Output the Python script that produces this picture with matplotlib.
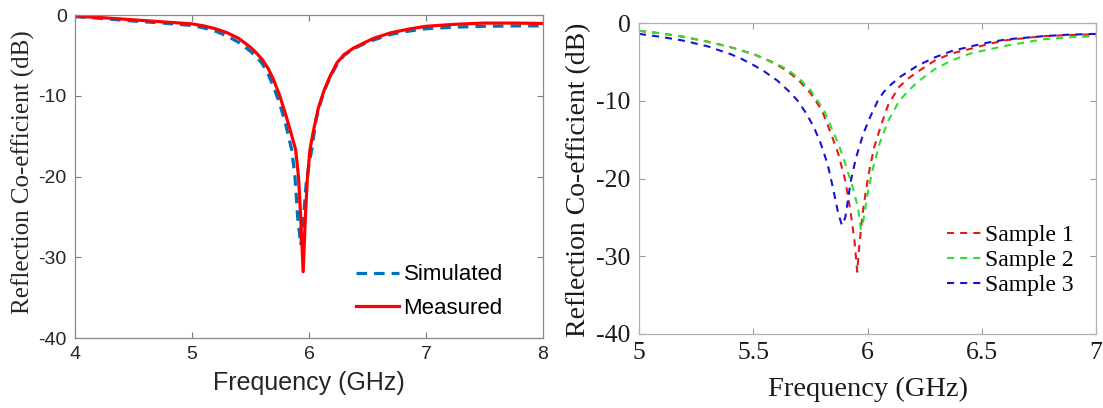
import matplotlib.pyplot as plt

# left panel: simulated vs measured
freq_sim = [4.0, 4.25, 4.5, 4.75, 5.0, 5.1, 5.2, 5.3, 5.4, 5.5, 5.55, 5.6, 5.65, 5.7, 5.75, 5.8, 5.852, 5.88,
            5.903, 5.93, 5.954, 5.975, 6.0, 6.023, 6.06, 6.1, 6.13, 6.18, 6.24, 6.3, 6.38, 6.45, 6.55, 6.7,
            6.85, 7.0, 7.25, 7.5, 7.75, 8.0]
s11_sim = [-0.2, -0.45, -0.75, -1.0, -1.3, -1.6, -2.0, -2.6, -3.4, -4.5, -5.2, -6.0, -7.3, -9.0, -11.0, -13.5,
           -16.7, -20.0, -25.0, -28.5, -25.0, -21.0, -18.5, -16.7, -13.0, -10.8, -9.4, -7.7, -6.1, -5.0,
           -4.2, -3.7, -3.1, -2.4, -2.0, -1.7, -1.5, -1.4, -1.35, -1.35]

freq_meas = [4.0, 4.25, 4.5, 4.75, 5.0, 5.1, 5.2, 5.3, 5.4, 5.5, 5.55, 5.6, 5.65, 5.7, 5.75, 5.8, 5.85, 5.886,
             5.91, 5.929, 5.95, 5.969, 5.985, 6.008, 6.04, 6.08, 6.13, 6.18, 6.24, 6.3, 6.38, 6.45, 6.55,
             6.7, 6.85, 7.0, 7.25, 7.5, 7.75, 8.0]
s11_meas = [-0.15, -0.35, -0.6, -0.85, -1.1, -1.35, -1.7, -2.2, -2.9, -4.0, -4.7, -5.5, -6.6, -8.1, -10.0,
            -12.3, -14.8, -16.7, -20.0, -25.0, -31.8, -25.0, -20.5, -16.7, -14.2, -11.5, -9.3, -7.6, -5.9,
            -4.9, -4.1, -3.6, -2.9, -2.2, -1.75, -1.4, -1.15, -1.0, -1.0, -1.05]

# right panel: three samples
freq_s1 = [5.0, 5.1, 5.2, 5.3, 5.4, 5.5, 5.55, 5.6, 5.65, 5.7, 5.75, 5.8, 5.84, 5.872, 5.903, 5.927, 5.943,
           5.955, 5.966, 5.982, 6.005, 6.029, 6.061, 6.092, 6.139, 6.18, 6.218, 6.296, 6.37, 6.453, 6.53,
           6.61, 6.767, 6.88, 7.0]
s11_s1 = [-1.0, -1.35, -1.8, -2.4, -3.1, -4.0, -4.6, -5.3, -6.2, -7.4, -9.0, -11.2, -14.2, -16.8, -20.3,
          -24.5, -28.0, -32.0, -28.0, -23.7, -19.4, -16.0, -13.0, -10.4, -8.2, -7.1, -6.3, -4.8, -3.9, -3.3,
          -2.7, -2.2, -1.7, -1.55, -1.45]

freq_s2 = [5.0, 5.1, 5.2, 5.3, 5.4, 5.5, 5.55, 5.6, 5.65, 5.7, 5.75, 5.809, 5.841, 5.872, 5.903, 5.935,
           5.958, 5.971, 5.982, 5.998, 6.021, 6.053, 6.092, 6.139, 6.18, 6.218, 6.296, 6.37, 6.453, 6.53,
           6.61, 6.767, 6.88, 7.0]
s11_s2 = [-1.0, -1.35, -1.8, -2.4, -3.1, -4.0, -4.6, -5.2, -6.0, -7.1, -8.6, -11.2, -13.4, -15.5, -18.1,
          -21.1, -23.7, -26.5, -25.4, -22.4, -19.0, -15.5, -12.5, -10.0, -8.7, -7.6, -5.9, -4.8, -3.9,
          -3.4, -2.9, -2.1, -1.85, -1.7]

freq_s3 = [5.0, 5.1, 5.2, 5.3, 5.4, 5.448, 5.5, 5.542, 5.605, 5.668, 5.7, 5.731, 5.762, 5.793, 5.825, 5.848,
           5.872, 5.888, 5.903, 5.927, 5.95, 5.982, 6.013, 6.045, 6.07, 6.1, 6.139, 6.218, 6.296, 6.37,
           6.453, 6.53, 6.61, 6.767, 6.88, 7.0]
s11_s3 = [-1.4, -1.8, -2.3, -3.0, -4.0, -4.6, -5.4, -6.1, -7.4, -9.1, -10.2, -11.6, -13.2, -15.3, -18.1,
          -21.1, -24.5, -26.0, -25.0, -20.3, -17.3, -14.2, -12.0, -10.0, -8.9, -8.0, -7.0, -5.5, -4.4,
          -3.6, -3.0, -2.5, -2.1, -1.7, -1.5, -1.4]

fig = plt.figure(figsize=(11.03, 4.08), dpi=100)
W, H = 1103, 408
ax1 = fig.add_axes([75 / W, 1 - 338 / H, 468 / W, 323 / H])
ax2 = fig.add_axes([639 / W, 1 - 334 / H, 457 / W, 311 / H])

sans = 'Liberation Sans'
serif = 'Liberation Serif'

# ---- left
ax1.plot(freq_sim, s11_sim, color='#0072BD', lw=2.3, ls=(0, (3.3, 2.2)), label='Simulated')
ax1.plot(freq_meas, s11_meas, color='#FF0000', lw=2.3, label='Measured')
ax1.set_xlim(4, 8)
ax1.set_ylim(-40, 0)
ax1.set_xticks([4, 5, 6, 7, 8])
ax1.set_yticks([-40, -30, -20, -10, 0])
ax1.set_xticklabels(['4', '5', '6', '7', '8'], family=sans, fontsize=14)
ax1.set_yticklabels(['-40', '-30', '-20', '-10', '0'], family=sans, fontsize=14)
ax1.tick_params(direction='in', top=True, right=True, length=4, width=0.8,
                color='#7a7a7a', labelcolor='#262626', pad=6)
for s in ax1.spines.values():
    s.set_color('#8a8a8a')
    s.set_linewidth(0.9)
ax1.set_xlabel('Frequency (GHz)', family=sans, fontsize=18, color='#262626', va='center')
ax1.xaxis.set_label_coords(0.5, -0.139)
ax1.set_ylabel('Reflection Co-efficient (dB)', family=serif, fontsize=18, color='#262626', va='center')
ax1.yaxis.set_label_coords(-0.111, 0.514)
ax1.legend(loc='upper left', bbox_to_anchor=(0.60, 0.228), frameon=False, borderpad=0, borderaxespad=0,
           handlelength=1.95, handletextpad=0.2, labelspacing=0.55,
           prop={'family': sans, 'size': 16})

# ---- right
ax2.plot(freq_s1, s11_s1, color='#e81818', lw=1.5, ls=(0, (3.4, 2.9)), label='Sample 1')
ax2.plot(freq_s2, s11_s2, color='#2ee02e', lw=1.5, ls=(0, (3.4, 2.9)), label='Sample 2')
ax2.plot(freq_s3, s11_s3, color='#1414d8', lw=1.5, ls=(0, (3.4, 2.9)), label='Sample 3')
ax2.set_xlim(5, 7)
ax2.set_ylim(-40, 0)
ax2.set_xticks([5, 5.5, 6, 6.5, 7])
ax2.set_yticks([-40, -30, -20, -10, 0])
ax2.set_xticklabels(['5', '5.5', '6', '6.5', '7'], family=serif, fontsize=18.5)
ax2.set_yticklabels(['-40', '-30', '-20', '-10', '0'], family=serif, fontsize=18.5)
ax2.tick_params(direction='in', top=True, right=True, length=4, width=0.8,
                color='#9a9a9a', labelcolor='#1a1a1a', pad=6)
for s in ax2.spines.values():
    s.set_color('#b0b0b0')
    s.set_linewidth(0.9)
ax2.set_xlabel('Frequency (GHz)', family=serif, fontsize=20.5, color='#1a1a1a', va='center')
ax2.xaxis.set_label_coords(0.5, -0.177)
ax2.set_ylabel('Reflection Co-efficient (dB)', family=serif, fontsize=20, color='#1a1a1a', va='center')
ax2.yaxis.set_label_coords(-0.132, 0.495)
ax2.legend(loc='upper left', bbox_to_anchor=(0.675, 0.352), frameon=False, borderpad=0, borderaxespad=0,
           handlelength=1.45, handletextpad=0.15, labelspacing=0.15,
           prop={'family': serif, 'size': 17})

fig.savefig('out.png', dpi=100)
